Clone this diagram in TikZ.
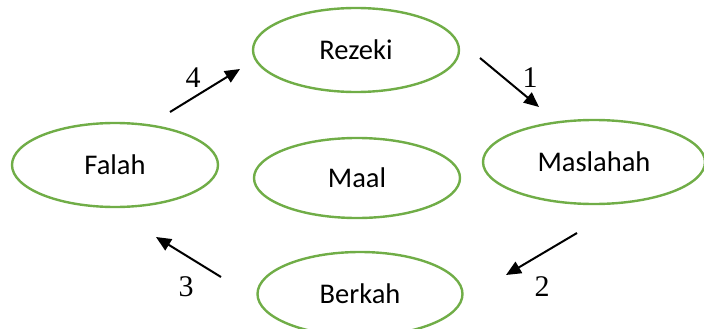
\documentclass[tikz,border=0pt]{standalone}
\usepackage{fontspec}
\setmainfont{Carlito}
\newfontfamily\numfont{Liberation Serif}
\usetikzlibrary{arrows.meta,shapes.geometric}
\definecolor{leaf}{RGB}{112,173,71}
\begin{document}
\begin{tikzpicture}[x=1pt,y=-1pt,
  term/.style={draw=leaf, line width=2.4pt, ellipse, minimum width=206pt, minimum height=84pt, inner sep=0pt, font=\fontsize{28.5}{32}\selectfont},
  flow/.style={line width=2pt, -{Triangle[length=15pt,width=13pt]}},
  num/.style={font=\numfont\fontsize{30}{34}\selectfont, inner sep=0pt}]
\useasboundingbox (0,0) rectangle (704,329);
\node[term] (rezeki) at (356,50) {Rezeki};
\node[term] (falah) at (115,165) {Falah};
\node[term, minimum height=80pt] (maal) at (357,178) {Maal};
\node[term, minimum width=222pt, minimum height=84pt] (maslahah) at (594,162) {Maslahah};
\node[term, minimum width=205pt] (berkah) at (360,294) {Berkah};
% arrows of the cycle
\coordinate (a4s) at (170,112); \coordinate (a4e) at (240,69);
\coordinate (a1s) at (480,58);  \coordinate (a1e) at (539,107);
\coordinate (a2s) at (577,233); \coordinate (a2e) at (506,275);
\coordinate (a3s) at (221,277); \coordinate (a3e) at (156,237);
\draw[flow] (a1s) -- (a1e);
\draw[flow] (a2s) -- (a2e);
\draw[flow] (a3s) -- (a3e);
\draw[flow] (a4s) -- (a4e);
\node[num] (n1) at (530,78) {1};
\node[num] (n2) at (542,287) {2};
\node[num] (n3) at (186,287) {3};
\node[num] (n4) at (193,78) {4};
\end{tikzpicture}
\end{document}
